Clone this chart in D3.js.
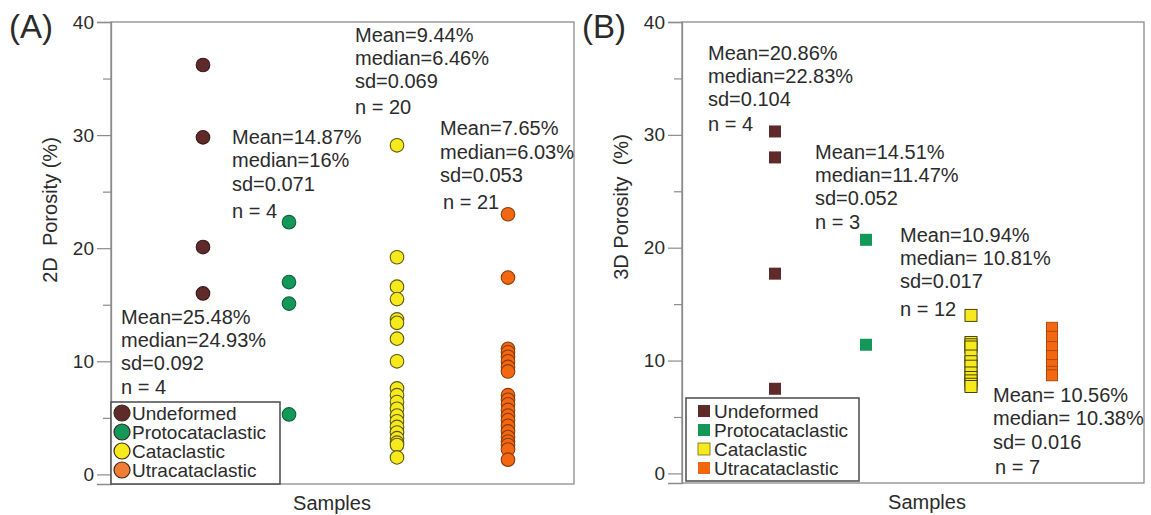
<!DOCTYPE html>
<html>
<head>
<meta charset="utf-8">
<script src="https://cdn.jsdelivr.net/npm/d3@7"></script>
<style>
  html, body { margin: 0; padding: 0; background: #fff; }
  svg { display: block; font-family: "Liberation Sans", Arial, sans-serif; }
</style>
</head>
<body>
<svg id="chart" width="1151" height="515"></svg>
<script>
// ---- data -------------------------------------------------------------
const categories = ["Undeformed", "Protocataclastic", "Cataclastic", "Utracataclastic"];
const yTicks = [0, 10, 20, 30, 40];
const yMinorTicks = [5, 15, 25, 35];

// 2D porosity (%) measured on thin sections
const undeformed2D = [36.2, 29.8, 20.1, 16.0];
const proto2D = [22.3, 17.0, 15.1, 5.3];
const cata2D = [29.1, 19.2, 16.6, 15.5, 13.7, 13.4, 12.0, 10.0, 7.6, 7.0,
                6.4, 5.8, 5.2, 4.7, 4.2, 3.7, 3.2, 2.8, 2.6, 1.5];
const ultra2D = [23.0, 17.4, 11.1, 10.8, 10.4, 10.0, 9.5, 9.1, 7.0, 6.6, 6.2,
                 5.7, 5.2, 4.8, 4.3, 3.8, 3.3, 2.9, 2.6, 2.2, 1.3];

// 3D porosity (%) from micro-CT
const undeformed3D = [30.3, 28.0, 17.7, 7.5];
const proto3D = [20.7, 11.4];
const cata3D = [14.0, 11.6, 11.4, 11.2, 10.4, 9.9, 9.5, 8.9, 8.5, 8.2, 7.9, 7.7];
const ultra3D = [12.9, 12.1, 11.2, 10.4, 9.6, 9.0, 8.7];

// summary statistics printed next to each group
const stats2D = [
  ["Mean=25.48%", "median=24.93%", "sd=0.092", "n = 4"],
  ["Mean=14.87%", "median=16%", "sd=0.071", "n = 4"],
  ["Mean=9.44%", "median=6.46%", "sd=0.069", "n = 20"],
  ["Mean=7.65%", "median=6.03%", "sd=0.053", "n = 21"]
];
const stats3D = [
  ["Mean=20.86%", "median=22.83%", "sd=0.104", "n = 4"],
  ["Mean=14.51%", "median=11.47%", "sd=0.052", "n = 3"],
  ["Mean=10.94%", "median= 10.81%", "sd=0.017", "n = 12"],
  ["Mean= 10.56%", "median= 10.38%", "sd= 0.016", "n = 7"]
];

// ---- styling ----------------------------------------------------------
const fillColors = ["#5f2a2a", "#13985a", "#f6ea1c", "#f2670f"];
const strokeColors = ["#3b1818", "#0c6438", "#5e5a14", "#8a3a0c"];
const legendFill2D = ["#5f2a2a", "#13985a", "#f6ea1c", "#f07d33"];
const textColor = "#2b2b2b";
const axisColor = "#8c8c8c";

const svg = d3.select("#chart");

function drawPanel(cfg) {
  const g = svg.append("g").attr("transform", `translate(${cfg.left},${cfg.top})`);
  const W = cfg.width, H = cfg.height;

  const y = d3.scaleLinear().domain([-0.85, 40]).range([H, 0]);
  const x = d3.scaleOrdinal().domain(categories).range(cfg.columns);

  // frame
  g.append("rect")
    .attr("x", 0).attr("y", 0).attr("width", W).attr("height", H)
    .attr("fill", "none").attr("stroke", axisColor).attr("stroke-width", 1.3);

  // left axis with major and minor ticks
  const axis = g.append("g")
    .call(d3.axisLeft(y).tickValues(yTicks).tickSize(14).tickPadding(3).tickFormat(d3.format("d")));
  axis.select(".domain").attr("stroke", axisColor).attr("stroke-width", 1.3);
  axis.selectAll(".tick line").attr("stroke", axisColor).attr("stroke-width", 1.2);
  axis.selectAll(".tick text")
    .attr("fill", textColor).attr("font-size", 19)
    .attr("font-family", "Liberation Sans, Arial, sans-serif");

  const minor = g.append("g")
    .call(d3.axisLeft(y).tickValues(yMinorTicks).tickSize(8).tickFormat(""));
  minor.select(".domain").remove();
  minor.selectAll(".tick line").attr("stroke", axisColor).attr("stroke-width", 1.2);

  // axis titles
  g.append("text")
    .attr("transform", `translate(-54,${cfg.yTitleY}) rotate(-90)`)
    .attr("text-anchor", "middle").attr("fill", textColor).attr("font-size", 20)
    .style("white-space", "pre").attr("xml:space", "preserve")
    .text(cfg.yTitle);
  g.append("text")
    .attr("x", cfg.xTitleX).attr("y", H + 26)
    .attr("text-anchor", "middle").attr("fill", textColor).attr("font-size", 20)
    .text("Samples");

  // panel letter
  svg.append("text")
    .attr("x", cfg.left - cfg.letterDx).attr("y", 38)
    .attr("fill", textColor).attr("font-size", 33)
    .text(cfg.letter);

  // statistics blocks
  cfg.stats.forEach((lines, i) => {
    const pos = cfg.statPos[i];
    lines.forEach((t, j) => {
      g.append("text")
        .attr("x", pos.x + (j === 3 ? pos.nDx || 0 : 0))
        .attr("y", pos.baselines[j] - cfg.top)
        .attr("fill", textColor).attr("font-size", 20)
        .style("white-space", "pre").attr("xml:space", "preserve")
        .text(t);
    });
  });

  // points
  cfg.series.forEach((vals, i) => {
    const cat = categories[i];
    if (cfg.shape === "circle") {
      g.append("g").selectAll("circle")
        .data(vals).join("circle")
        .attr("cx", x(cat)).attr("cy", d => y(d)).attr("r", 6.8)
        .attr("fill", fillColors[i]).attr("stroke", strokeColors[i]).attr("stroke-width", 1.1);
    } else {
      const s = cfg.squareSize[i];
      const stroked = i >= 2;
      g.append("g").selectAll("rect")
        .data(vals).join("rect")
        .attr("x", x(cat) - s / 2).attr("y", d => y(d) - s / 2)
        .attr("width", s).attr("height", s)
        .attr("fill", fillColors[i])
        .attr("stroke", stroked ? (i === 2 ? "#4a4510" : "#b04a0a") : "none")
        .attr("stroke-width", stroked ? 1 : 0);
    }
  });

  // legend
  const L = cfg.legend;
  const lg = g.append("g").attr("transform", `translate(${L.x},${L.y})`);
  lg.append("rect")
    .attr("x", 0).attr("y", 0).attr("width", L.w).attr("height", L.h)
    .attr("fill", "#fff").attr("stroke", "#555").attr("stroke-width", 1.6);
  categories.forEach((c, i) => {
    const cy = L.rows[i];
    if (cfg.shape === "circle") {
      lg.append("circle").attr("cx", 11).attr("cy", cy).attr("r", 8)
        .attr("fill", legendFill2D[i]).attr("stroke", "#3a2a20").attr("stroke-width", 1.2);
    } else {
      lg.append("rect").attr("x", 12).attr("y", cy - 6).attr("width", 12).attr("height", 12)
        .attr("fill", fillColors[i]).attr("stroke", i === 2 ? "#6b6520" : "none").attr("stroke-width", 0.8);
    }
    lg.append("text")
      .attr("x", L.textX).attr("y", cy).attr("dy", "0.35em")
      .attr("fill", textColor).attr("font-size", 19)
      .text(c);
  });
}

drawPanel({
  left: 111, top: 22, width: 463, height: 462,
  letter: "(A)", letterDx: 102,
  yTitle: "2D  Porosity (%)", yTitleY: 188,
  xTitleX: 221,
  shape: "circle",
  columns: [92, 178, 286, 397],
  series: [undeformed2D, proto2D, cata2D, ultra2D],
  stats: stats2D,
  statPos: [
    { x: 10, baselines: [324, 347, 370, 394] },
    { x: 121, baselines: [144, 167, 191, 218] },
    { x: 244, baselines: [42, 65, 88, 114] },
    { x: 329, baselines: [135, 159, 182, 209], nDx: 3 }
  ],
  legend: { x: 0, y: 380, w: 169, h: 82, rows: [11, 30, 49, 68], textX: 21 }
});

drawPanel({
  left: 682, top: 22, width: 462, height: 461,
  letter: "(B)", letterDx: 100,
  yTitle: "3D Porosity  (%)", yTitleY: 185,
  xTitleX: 245,
  shape: "square",
  columns: [93, 184, 289, 370],
  series: [undeformed3D, proto3D, cata3D, ultra3D],
  squareSize: [12, 12, 12, 11],
  stats: stats3D,
  statPos: [
    { x: 26, baselines: [60, 83, 106, 131] },
    { x: 133, baselines: [159, 182, 205, 229] },
    { x: 218, baselines: [242, 265, 288, 316] },
    { x: 311, baselines: [402, 425, 449, 474], nDx: 2 }
  ],
  legend: { x: 4, y: 376, w: 173, h: 83, rows: [13, 32, 51, 70], textX: 28 }
});
</script>
</body>
</html>
